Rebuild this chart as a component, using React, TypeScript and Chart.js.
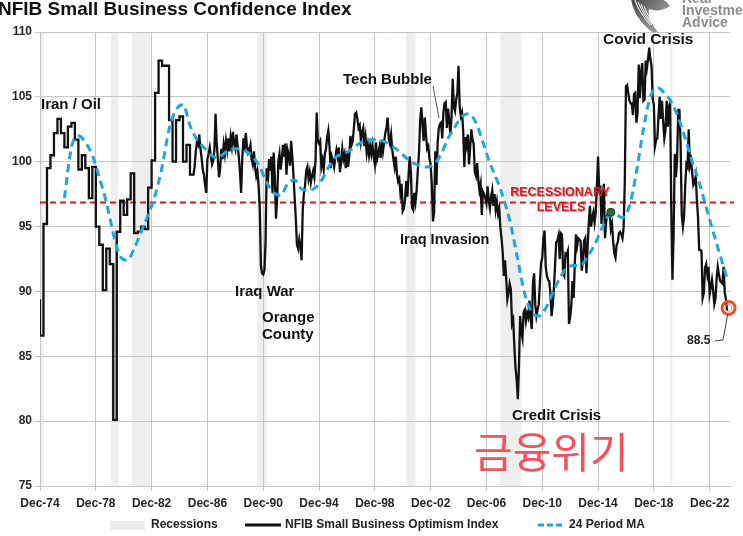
import React, { useEffect, useRef } from 'react';
import { Chart, registerables } from 'chart.js';

Chart.register(...registerables);

// ---------- DATA ----------
// x axis = months since Dec-1974
const TICK_LABELS = ['Dec-74', 'Dec-78', 'Dec-82', 'Dec-86', 'Dec-90', 'Dec-94', 'Dec-98', 'Dec-02', 'Dec-06', 'Dec-10', 'Dec-14', 'Dec-18', 'Dec-22'];
const MONTHS_PER_TICK = 48;
const X_MAX = 593.5;
const Y_MIN = 75;
const Y_MAX = 110;
const Y_STEP = 5;

// NFIB optimism index, quarterly Dec-74 .. Dec-85
const QUARTERLY_1974_1985 = [
  89.4, 86.6, 95.2, 99.5, 100.5, 102.2, 103.3, 102.2, 101.1, 102.7, 103.0, 101.7,
  99.4, 100.5, 99.5, 97.2, 99.6, 95.0, 93.6, 90.1, 93.3, 92.1, 80.1, 94.6,
  97.0, 95.9, 97.1, 99.1, 94.5, 94.6, 95.0, 94.8, 98.0, 100.1, 105.3, 107.8,
  107.4, 107.4, 103.2, 100.0, 103.2, 103.5, 100.0, 101.3, 99.0,
];
const MONTHLY_START = 133; // Jan-86
// NFIB optimism index, monthly Jan-86 .. Mar-24
const MONTHLY_1986_2024 = [
  99.6, 100.8, 101.5, 101.3, 102.1, 101.0, 100.3, 99.4, 99.0, 98.2, 97.6, 100.2, // 1986
  100.6, 101.1, 100.4, 99.8, 100.1, 100.9, 103.7, 101.4, 100.2, 98.8, 99.5, 101.0, // 1987
  100.2, 101.3, 100.6, 101.6, 100.9, 101.8, 100.8, 101.9, 101.2, 102.3, 101.4, 101.0, // 1988
  102.1, 101.2, 100.4, 99.2, 97.6, 100.3, 101.8, 100.8, 102.2, 101.2, 100.7, 100.9, // 1989
  101.3, 100.2, 99.8, 100.8, 99.6, 98.9, 99.3, 98.2, 96.4, 92.0, 91.4, 91.3, // 1990
  91.6, 93.8, 99.5, 98.4, 100.2, 99.3, 100.4, 97.6, 100.7, 98.7, 95.6, 97.2, // 1991
  100.0, 100.6, 99.4, 100.2, 101.3, 100.4, 101.4, 99.0, 100.9, 100.5, 99.7, 101.6, // 1992
  100.4, 99.0, 97.3, 95.7, 93.6, 93.3, 94.0, 93.4, 92.4, 96.3, 97.6, 98.2, // 1993
  99.3, 99.6, 98.7, 99.2, 98.4, 98.9, 99.3, 98.8, 100.1, 103.8, 101.6, 101.4, // 1994
  101.6, 99.6, 100.1, 99.4, 100.6, 101.0, 101.9, 102.4, 101.2, 99.5, 100.4, 100.1, // 1995
  99.6, 100.3, 100.9, 100.4, 101.1, 99.2, 100.0, 101.0, 100.2, 100.6, 99.5, 100.7, // 1996
  99.6, 100.4, 102.0, 101.3, 101.6, 102.6, 103.7, 103.8, 103.3, 102.6, 102.8, 101.6, // 1997
  102.3, 102.6, 101.2, 101.9, 100.7, 101.3, 100.5, 101.2, 100.6, 101.3, 100.4, 99.8, // 1998
  101.5, 100.2, 100.6, 101.1, 100.3, 101.7, 100.8, 101.5, 102.2, 102.6, 103.4, 101.8, // 1999
  101.4, 102.1, 100.9, 100.2, 99.6, 100.4, 99.1, 98.5, 98.7, 97.6, 98.3, 96.2, // 2000
  96.4, 97.1, 98.5, 97.3, 98.9, 100.4, 99.2, 96.5, 96.3, 97.6, 96.9, 97.8, // 2001
  99.4, 100.7, 103.2, 104.2, 102.9, 101.6, 103.4, 102.1, 101.0, 101.2, 100.2, 99.8, // 2002
  98.3, 95.4, 96.1, 100.8, 98.2, 101.4, 102.6, 102.9, 103.0, 101.8, 103.8, 104.5, // 2003
  104.6, 102.6, 104.1, 103.2, 102.1, 103.5, 106.4, 104.2, 103.9, 104.8, 105.3, 107.4, // 2004
  104.2, 103.5, 103.8, 102.4, 99.6, 101.9, 101.3, 102.1, 99.8, 101.1, 102.5, 101.7, // 2005
  101.4, 99.2, 98.9, 99.9, 98.6, 97.8, 98.3, 95.9, 97.7, 97.5, 97.2, 96.8, // 2006
  98.1, 97.0, 96.4, 97.3, 97.8, 96.6, 97.5, 96.3, 96.9, 96.0, 96.4, 94.9, // 2007
  94.1, 93.0, 91.2, 92.4, 91.0, 89.4, 89.9, 90.6, 90.2, 87.5, 87.8, 85.8, // 2008
  84.1, 83.2, 81.7, 84.3, 88.1, 86.9, 86.4, 88.4, 88.6, 87.7, 88.3, 88.0, // 2009
  89.3, 88.0, 87.1, 90.6, 91.4, 89.0, 88.1, 88.6, 89.0, 90.7, 92.2, 92.6, // 2010
  94.1, 94.7, 91.9, 91.2, 90.9, 90.8, 89.9, 88.1, 88.9, 90.2, 92.0, 93.8, // 2011
  93.9, 94.3, 92.5, 94.5, 94.4, 91.4, 91.2, 92.9, 92.8, 93.1, 87.5, 88.0, // 2012
  88.9, 90.8, 89.5, 92.1, 94.4, 93.5, 94.1, 94.0, 93.9, 91.6, 92.5, 93.9, // 2013
  94.1, 91.4, 93.4, 95.2, 96.6, 95.0, 95.7, 96.1, 95.3, 96.1, 98.1, 100.4, // 2014
  97.9, 98.0, 95.2, 96.9, 98.3, 94.1, 95.4, 95.9, 96.1, 96.1, 94.8, 95.2, // 2015
  93.9, 92.9, 92.6, 93.6, 93.8, 94.5, 94.6, 94.4, 94.1, 94.9, 98.4, 105.8, // 2016
  105.9, 105.3, 104.7, 104.5, 104.5, 103.6, 105.2, 105.3, 103.0, 103.8, 107.5, 104.9, // 2017
  106.9, 107.6, 104.7, 104.8, 107.8, 107.2, 107.9, 108.8, 107.9, 107.4, 104.8, 104.4, // 2018
  101.2, 101.7, 101.8, 103.5, 105.0, 103.3, 104.7, 103.1, 101.8, 102.4, 104.7, 102.7, // 2019
  104.3, 104.5, 96.4, 90.9, 94.4, 100.6, 98.8, 100.2, 104.0, 104.0, 101.4, 95.9, // 2020
  95.0, 95.8, 98.2, 99.8, 99.6, 102.5, 99.7, 100.1, 99.1, 98.2, 98.4, 98.9, // 2021
  97.1, 95.7, 93.2, 93.2, 93.1, 89.5, 89.9, 91.8, 92.1, 91.3, 91.9, 89.8, // 2022
  90.3, 90.9, 90.1, 89.0, 89.4, 91.0, 91.9, 91.3, 90.8, 90.7, 90.6, 91.9, // 2023
  89.9, 89.4, 88.5, // 2024
];

// 24 period moving average, every 6 months from Sep-76
const MA_START = 21;
const MA_STEP = 6;
const MA_24 = [
  97.2, 101.1, 102.0, 101.5, 100.5, 98.8, 96.9, 94.5, 92.7, 92.4,
  93.3, 94.6, 95.9, 97.4, 99.6, 102.5, 104.0, 104.4, 102.8, 101.7,
  101.1, 100.5, 100.3, 100.7, 101.0, 101.0, 100.8, 100.4, 99.6, 98.4,
  97.6, 97.4, 98.3, 98.6, 97.9, 97.8, 98.0, 98.7, 99.7, 100.4,
  100.6, 100.9, 101.3, 101.6, 101.7, 101.7, 101.5, 101.2, 100.8, 100.3,
  99.9, 99.7, 99.6, 99.8, 100.6, 101.8, 102.7, 103.5, 103.7, 103.0,
  101.5, 99.9, 98.6, 97.1, 95.1, 92.4, 89.8, 88.4, 88.1, 88.7,
  89.9, 91.0, 91.8, 92.0, 92.0, 92.7, 93.6, 94.8, 95.8, 95.9,
  95.7, 96.6, 99.2, 102.5, 105.0, 105.7, 105.3, 104.6, 103.4, 101.8,
  100.0, 98.4, 96.5, 94.6, 92.8, 91.0,
];

const RECESSIONS = [
  ['1973-11', '1975-03'],
  ['1980-01', '1980-07'],
  ['1981-07', '1982-11'],
  ['1990-07', '1991-03'],
  ['2001-03', '2001-11'],
  ['2007-12', '2009-06'],
  ['2020-02', '2020-04'],
];
const RECESSION_LEVEL = 96.85;
const LATEST_VALUE = 88.5;
const GREEN_DOT = { month: 491, value: 96.1 };

// ---------- helpers ----------
const toMonthIndex = (s: string) => {
  const [y, m] = s.split('-').map(Number);
  return (y - 1974) * 12 + (m - 12);
};

const nfibPoints: { x: number; y: number }[] = [];
QUARTERLY_1974_1985.forEach((v, k) => {
  if (k === 0) nfibPoints.push({ x: 0, y: v });
  else {
    nfibPoints.push({ x: 3 * k - 3, y: v });
    nfibPoints.push({ x: 3 * k, y: v });
  }
});
MONTHLY_1986_2024.forEach((v, i) => nfibPoints.push({ x: MONTHLY_START + i, y: v }));
const lastMonth = MONTHLY_START + MONTHLY_1986_2024.length - 1;

const maPoints = MA_24.map((v, i) => ({ x: MA_START + i * MA_STEP, y: v }));

const FONT = '"Liberation Sans", Arial, sans-serif';

const decorPlugin = {
  id: 'decor',
  beforeDraw(chart: any) {
    const { ctx, chartArea: a, scales } = chart;
    const xs = scales.x;
    ctx.save();
    ctx.beginPath();
    ctx.rect(a.left, a.top, a.right - a.left, a.bottom - a.top);
    ctx.clip();
    ctx.fillStyle = '#eeeeee';
    RECESSIONS.forEach(([s, e]) => {
      const x1 = xs.getPixelForValue(toMonthIndex(s));
      const x2 = xs.getPixelForValue(toMonthIndex(e));
      ctx.fillRect(x1, a.top, x2 - x1, a.bottom - a.top);
    });
    ctx.restore();
  },
  beforeDatasetsDraw(chart: any) {
    const { ctx, chartArea: a, scales } = chart;
    const y = scales.y.getPixelForValue(RECESSION_LEVEL);
    ctx.save();
    ctx.strokeStyle = '#d7191c';
    ctx.lineWidth = 2;
    ctx.setLineDash([6, 4]);
    ctx.beginPath();
    ctx.moveTo(a.left, y);
    ctx.lineTo(a.right + 4, y);
    ctx.stroke();
    ctx.restore();
  },
  afterDatasetsDraw(chart: any) {
    const { ctx, scales } = chart;
    const xs = scales.x;
    const ys = scales.y;
    ctx.save();
    // green dot
    ctx.fillStyle = '#2f6b35';
    ctx.strokeStyle = '#1d4420';
    ctx.lineWidth = 1;
    ctx.beginPath();
    ctx.arc(xs.getPixelForValue(GREEN_DOT.month), ys.getPixelForValue(GREEN_DOT.value), 4, 0, Math.PI * 2);
    ctx.fill();
    ctx.stroke();
    // latest value circle
    const cx = xs.getPixelForValue(lastMonth) + 1.5;
    const cy = ys.getPixelForValue(LATEST_VALUE) - 3;
    ctx.strokeStyle = '#f04a23';
    ctx.lineWidth = 3;
    ctx.beginPath();
    ctx.arc(cx, cy, 6.5, 0, Math.PI * 2);
    ctx.stroke();
    ctx.lineWidth = 1;
    ctx.strokeStyle = '#f58a6a';
    ctx.beginPath();
    ctx.arc(cx, cy, 3.5, 0, Math.PI * 2);
    ctx.stroke();
    // leader + label
    ctx.strokeStyle = '#444';
    ctx.lineWidth = 1;
    ctx.beginPath();
    ctx.moveTo(715, 341);
    ctx.lineTo(723, 340);
    ctx.lineTo(cx - 1, cy + 7);
    ctx.stroke();
    ctx.fillStyle = '#222';
    ctx.font = `bold 12px ${FONT}`;
    ctx.textBaseline = 'middle';
    ctx.textAlign = 'left';
    ctx.fillText(String(LATEST_VALUE), 687, 341);
    ctx.restore();
  },
  afterDraw(chart: any) {
    const { ctx } = chart;
    ctx.save();
    ctx.textBaseline = 'middle';
    ctx.textAlign = 'left';
    // title
    ctx.fillStyle = '#111';
    ctx.font = `bold 19px ${FONT}`;
    ctx.fillText('NFIB Small Business Confidence Index', -2, 10);

    // annotations
    const notes: [string, number, number, number][] = [
      ['Iran / Oil', 41, 105, 15],
      ['Tech Bubble', 343, 80, 15],
      ['Covid Crisis', 603, 40, 15.5],
      ['Iraq War', 235, 292, 15],
      ['Orange', 262, 318, 15],
      ['County', 262, 335, 15],
      ['Iraq Invasion', 400, 240, 14.5],
      ['Credit Crisis', 512, 416, 15],
    ];
    ctx.fillStyle = '#111';
    notes.forEach(([t, x, y, s]) => {
      ctx.font = `bold ${s}px ${FONT}`;
      ctx.fillText(t, x, y);
    });
    // tech bubble leader
    ctx.strokeStyle = '#555';
    ctx.lineWidth = 1;
    ctx.beginPath();
    ctx.moveTo(433, 86);
    ctx.lineTo(439, 118);
    ctx.stroke();

    // recessionary levels
    ctx.textAlign = 'center';
    ctx.font = `bold 12.5px ${FONT}`;
    ctx.fillStyle = 'rgba(120,0,0,0.35)';
    ctx.fillText('RECESSIONARY', 561, 194);
    ctx.fillText('LEVELS', 562, 209);
    ctx.fillStyle = '#e3161e';
    ctx.fillText('RECESSIONARY', 560, 193);
    ctx.fillText('LEVELS', 561, 208);

    // korean
    ctx.textAlign = 'left';
    ctx.fillStyle = '#f8505a';
    ctx.font = `400 42px "Noto Sans CJK KR", sans-serif`;
    ctx.fillText('금융위기', 474, 452);

    // logo
    const g = ctx.createLinearGradient(630, 0, 670, 32);
    g.addColorStop(0, '#454545');
    g.addColorStop(1, '#b8b8b8');
    ctx.fillStyle = g;
    ctx.beginPath();
    ctx.moveTo(631, -1);
    ctx.quadraticCurveTo(634, 18, 652, 32);
    ctx.lineTo(658, 32);
    ctx.quadraticCurveTo(647, 19, 649, 9);
    ctx.quadraticCurveTo(660, 13, 670, 6);
    ctx.quadraticCurveTo(666, -1, 658, -1);
    ctx.closePath();
    ctx.fill();
    ctx.strokeStyle = '#ffffff';
    ctx.lineWidth = 1;
    for (let i = 0; i < 4; i++) {
      ctx.beginPath();
      ctx.moveTo(635 + i * 3, 0 + i * 2);
      ctx.quadraticCurveTo(639 + i * 3, 12 + i * 2, 650 + i * 2, 25);
      ctx.stroke();
    }
    ctx.fillStyle = '#8c8c8c';
    ctx.font = `bold 14px ${FONT}`;
    ctx.fillText('Real', 682, -1);
    ctx.fillText('Investment', 682, 11);
    ctx.fillText('Advice', 682, 23);

    // legend
    const ly = 525;
    ctx.fillStyle = '#ececec';
    ctx.fillRect(110, ly - 4, 35, 9);
    ctx.fillStyle = '#222';
    ctx.font = `bold 12px ${FONT}`;
    ctx.fillText('Recessions', 151, ly);
    ctx.strokeStyle = '#111';
    ctx.lineWidth = 3;
    ctx.beginPath();
    ctx.moveTo(245, ly);
    ctx.lineTo(281, ly);
    ctx.stroke();
    ctx.fillText('NFIB Small Business Optimism Index', 285, ly);
    ctx.strokeStyle = '#1ea5e2';
    ctx.setLineDash([6, 3]);
    ctx.beginPath();
    ctx.moveTo(538, ly);
    ctx.lineTo(565, ly);
    ctx.stroke();
    ctx.setLineDash([]);
    ctx.fillText('24 Period MA', 569, ly);
    ctx.restore();
  },
};

export default function App() {
  const ref = useRef<HTMLCanvasElement | null>(null);

  useEffect(() => {
    document.body.style.margin = '0';
    if (!ref.current) return;
    const chart = new Chart(ref.current, {
      type: 'line',
      data: {
        datasets: [
          {
            label: 'NFIB Small Business Optimism Index',
            data: nfibPoints,
            borderColor: '#111111',
            borderWidth: 2.3,
            pointRadius: 0,
            tension: 0,
            order: 1,
          },
          {
            label: '24 Period MA',
            data: maPoints,
            borderColor: '#1ea5e2',
            borderWidth: 3,
            borderDash: [8, 5],
            pointRadius: 0,
            cubicInterpolationMode: 'monotone',
            order: 0,
          },
        ],
      },
      options: {
        animation: false,
        responsive: true,
        maintainAspectRatio: false,
        layout: { padding: { left: 0, right: 13, top: 32, bottom: 20 } },
        plugins: { legend: { display: false }, tooltip: { enabled: false } },
        scales: {
          x: {
            type: 'linear',
            min: 0,
            max: X_MAX,
            afterBuildTicks: (scale: any) => {
              scale.ticks = TICK_LABELS.map((_, i) => ({ value: i * MONTHS_PER_TICK }));
            },
            afterFit: (scale: any) => {
              scale.height = 30;
            },
            ticks: {
              autoSkip: false,
              maxRotation: 0,
              padding: 5,
              color: '#262626',
              font: { family: FONT, size: 12, weight: 'bold' },
              callback: (v: any) => TICK_LABELS[Math.round(Number(v) / MONTHS_PER_TICK)] ?? '',
            },
            grid: { color: '#c6c6c6', lineWidth: 1, tickLength: 5 },
            border: { color: '#c6c6c6' },
          },
          y: {
            min: Y_MIN,
            max: Y_MAX,
            afterFit: (scale: any) => {
              scale.width = 40;
            },
            ticks: {
              stepSize: Y_STEP,
              padding: 3,
              color: '#262626',
              font: { family: FONT, size: 12, weight: 'bold' },
            },
            grid: { color: '#c6c6c6', lineWidth: 1, tickLength: 5 },
            border: { color: '#c6c6c6' },
          },
        },
      } as any,
      plugins: [decorPlugin],
    });
    return () => chart.destroy();
  }, []);

  return (
    <div style={{ width: 743, height: 536, position: 'relative', background: '#fff' }}>
      <canvas ref={ref} />
    </div>
  );
}
